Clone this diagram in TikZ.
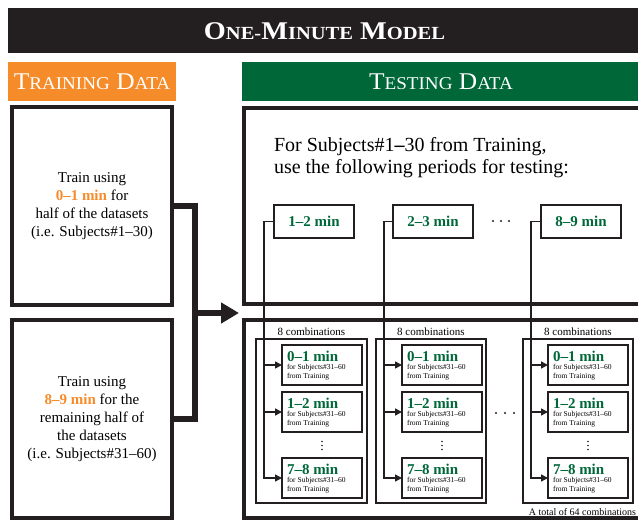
\documentclass[tikz,border=0pt]{standalone}
\usepackage{fontspec}
\setmainfont{Liberation Serif}
\usetikzlibrary{arrows.meta,calc}
\definecolor{tblack}{HTML}{231F20}
\definecolor{torange}{HTML}{F68B29}
\definecolor{tgreen}{HTML}{006838}
\newcommand\myscp[4]{{\fontsize{#1}{#1}\selectfont #3}{\fontsize{#2}{#2}\selectfont #4}}
\begin{document}
\begin{tikzpicture}[x=1pt,y=-1pt,
  every node/.style={inner sep=0pt, outer sep=0pt},
  bigbox/.style={draw=tblack, line width=3.5pt, anchor=north west},
  periodbox/.style={draw=tblack, line width=1.2pt, anchor=north west, minimum width=80pt, minimum height=33pt, font=\fontsize{15}{15}\selectfont\bfseries, text=tgreen},
  itembox/.style={draw=tblack, line width=1.2pt, anchor=north west, minimum width=80pt, minimum height=40pt},
  itemtitle/.style={anchor=base west, font=\fontsize{15}{15}\selectfont\bfseries, text=tgreen},
  itemsub/.style={anchor=base west, font=\fontsize{7.5}{7.5}\selectfont},
  groupbox/.style={draw=tblack, line width=2pt, anchor=north west, minimum height=164pt},
  conn/.style={draw=tblack, line width=1.5pt},
  arr/.style={conn, -{Triangle[length=7pt,width=7pt]}},
  bigline/.style={draw=tblack, line width=6pt},
  combo/.style={anchor=base, font=\fontsize{11}{11}\selectfont},
  dot/.style={fill=tblack}
  ]
\useasboundingbox (0,0) rectangle (638,521);
% headers
\node[fill=tblack, anchor=north west, minimum width=637pt, minimum height=45pt] (titlebar) at (8,8) {};
\node[text=white, font=\fontsize{25.5}{25.5}\selectfont\bfseries] (title) at (324.5,31)
  {\scalebox{1.11}[1]{\myscp{25.5}{18.5}{O}{NE-}\myscp{25.5}{18.5}{M}{INUTE} \myscp{25.5}{18.5}{M}{ODEL}}};
\node[fill=torange, anchor=north west, minimum width=168pt, minimum height=39pt] (trainbar) at (8,62) {};
\node[text=white, font=\fontsize{24}{24}\selectfont] (traintitle) at (92,82)
  {\scalebox{1.06}[1]{\myscp{24}{18}{T}{RAINING} \myscp{24}{18}{D}{ATA}}};
\node[fill=tgreen, anchor=north west, minimum width=403pt, minimum height=39pt] (testbar) at (242,62) {};
\node[text=white, font=\fontsize{24}{24}\selectfont] (testtitle) at (441,82)
  {\scalebox{1.06}[1]{\myscp{24}{18}{T}{ESTING} \myscp{24}{18}{D}{ATA}}};
% training boxes
\node[bigbox, minimum width=160pt, minimum height=198pt, align=center, font=\fontsize{15}{18}\selectfont] (leftA) at (12,107)
  {Train using\\{\bfseries\color{torange}0–1 min} for\\half of the datasets\\(i.e. Subjects\#1–30)};
\node[bigbox, minimum width=160pt, minimum height=198pt, align=center, font=\fontsize{15}{18}\selectfont] (leftB) at (12,320)
  {Train using\\{\bfseries\color{torange}8–9 min} for the\\remaining half of\\the datasets\\(i.e. Subjects\#31–60)};
% testing boxes
\node[bigbox, minimum width=398pt, minimum height=196pt] (testA) at (244,108) {};
\node[bigbox, minimum width=398pt, minimum height=198pt] (testB) at (244,320) {};
\node[anchor=north west, align=left, font=\fontsize{20}{22}\selectfont] (intro) at (274,137)
  {For Subjects\#1{\bfseries –}30 from Training,\\use the following periods for testing:};
% big arrow
\coordinate (jn) at (195,313);
\coordinate (tip) at (239,313);
\draw[bigline] (leftA.east) -- (jn |- leftA.east) -- (jn |- leftB.east) -- (leftB.east);
\draw[bigline, -{Triangle[length=18pt,width=20pt]}] (jn) -- (tip);
% period boxes
\node[periodbox] (p1) at (274,205) {1–2 min};
\node[periodbox] (p2) at (393,205) {2–3 min};
\node[periodbox] (p3) at (541,205) {8–9 min};
\foreach \x in {493,501,509} \fill[dot] (\x,221) circle (1.1pt);
% groups
\node[groupbox, minimum width=111pt] (g1) at (256,339) {};
\node[groupbox, minimum width=110pt] (g2) at (376,339) {};
\node[groupbox, minimum width=110pt] (g3) at (523,339) {};
\node[combo] (l1) at ($(g1.north)+(0,-3)$) {8 combinations};
\node[combo] (l2) at ($(g2.north)+(0,-3)$) {8 combinations};
\node[combo] (l3) at ($(g3.north)+(0,-3)$) {8 combinations};
\node[anchor=base east, font=\fontsize{10}{10}\selectfont] (total) at ($(g3.south east)+(3,12)$) {A total of 64 combinations};
% items
\foreach \g/\x in {1/282,2/402,3/548}{
  \foreach \r/\y/\t in {a/345/0–1 min,b/392/1–2 min,c/458/7–8 min}{
    \node[itembox] (i\g\r) at (\x,\y) {};
    \node[itemtitle] (i\g\r t) at ($(i\g\r.north west)+(5,16.5)$) {\t};
    \node[itemsub] (i\g\r s) at ($(i\g\r.north west)+(5,24.5)$) {for Subjects\#31–60};
    \node[itemsub] (i\g\r f) at ($(i\g\r.north west)+(5,34)$) {from Training};
  }
  \foreach \y in {441.5,445.5,449.5} \fill[dot] ($(i\g b.south)+(0,\y-432)$) circle (0.8pt);
}
\foreach \x in {496,505,514} \fill[dot] (\x,413) circle (1.1pt);
% connectors
\foreach \p/\g/\vx in {p1/1/264,p2/2/384,p3/3/531}{
  \coordinate (c\g) at (\vx,0);
  \draw[arr] (\p.west) -| (c\g |- i\g c.west) -- (i\g c.west);
  \draw[arr] (c\g |- i\g a.west) -- (i\g a.west);
  \draw[arr] (c\g |- i\g b.west) -- (i\g b.west);
}
\end{tikzpicture}
\end{document}
